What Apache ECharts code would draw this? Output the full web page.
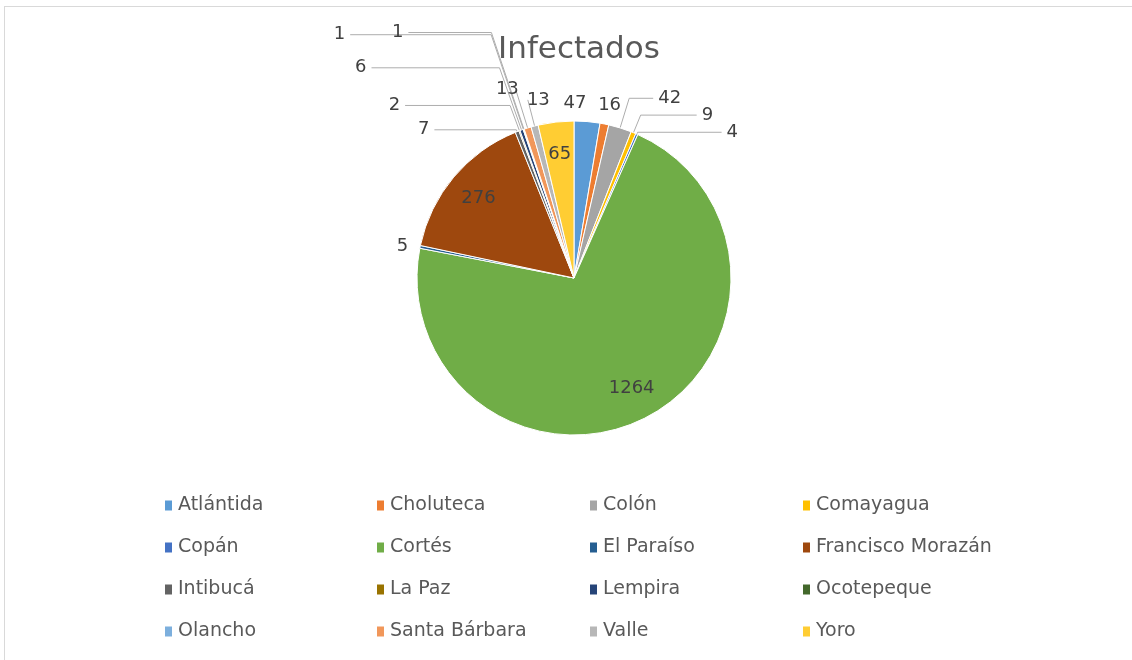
<!DOCTYPE html>
<html>
<head>
<meta charset="utf-8">
<script src="https://cdn.jsdelivr.net/npm/echarts@6/dist/echarts.min.js"></script>
<style>
  html, body { margin: 0; padding: 0; background: #fff; }
  #frame { position: absolute; left: 4px; top: 6px; width: 1140px; height: 660px;
           border-top: 1px solid #d9d9d9; border-left: 1px solid #d9d9d9; }
  #main { position: absolute; left: 0; top: 0; width: 1132px; height: 660px; }
</style>
</head>
<body>
<div id="frame"></div>
<div id="main"></div>
<script>
// departamentos y casos
var departamentos = ['Atlántida', 'Choluteca', 'Colón', 'Comayagua', 'Copán', 'Cortés', 'El Paraíso',
  'Francisco Morazán', 'Intibucá', 'La Paz', 'Lempira', 'Ocotepeque', 'Olancho', 'Santa Bárbara', 'Valle', 'Yoro'];
var infectados = [47, 16, 42, 9, 4, 1264, 5, 276, 7, 2, 6, 1, 1, 13, 13, 65];
var colores = ['#5B9BD5', '#ED7D31', '#A5A5A5', '#FFC000', '#4472C4', '#70AD47', '#255E91', '#9E480E',
  '#636363', '#997300', '#264478', '#43682B', '#7CAFDD', '#F1975A', '#B7B7B7', '#FFCD33'];
// etiquetas dentro del sector
var dentro = ['Cortés', 'Francisco Morazán', 'Yoro'];

// guias de etiqueta (largo radial, largo horizontal, distancia, mostrar linea)
var guias = {
  'Atlántida': [18, 0, -25, false],
  'Choluteca': [19, 0, -10, false],
  'Colón': [31, 24, 5, true],
  'Comayagua': [19, 56, 5, true],
  'Copán': [2, 84, 5, true],
  'El Paraíso': [5, 4, 3, false],
  'Intibucá': [2, 82, 5, true],
  'La Paz': [27, 105, 5, true],
  'Lempira': [66, 128, 5, true],
  'Ocotepeque': [100, 141, 5, true],
  'Olancho': [102, 83, 5, true],
  'Santa Bárbara': [40, 0, -3, true],
  'Valle': [27, 0, -22, true]
};

var myChart = echarts.init(document.getElementById('main'));
var fuente = 'DejaVu Sans';
var centro = [574, 278];

var data = departamentos.map(function (d, i) {
  var item = { name: d, value: infectados[i], itemStyle: { color: colores[i] } };
  if (dentro.indexOf(d) >= 0) {
    item.label = { position: 'inside' };
  } else if (guias[d]) {
    var g = guias[d];
    item.label = { distanceToLabelLine: g[2] };
    item.labelLine = { show: g[3], length: g[0], length2: g[1] };
  }
  return item;
});

// leyenda en 4 columnas
var colX = [158, 370, 583, 796];
var legends = colX.map(function (x, c) {
  return {
    orient: 'vertical',
    left: x,
    top: 491,
    itemWidth: 9,
    itemHeight: 12,
    itemGap: 23,
    selectedMode: false,
    icon: 'rect',
    textStyle: { fontFamily: fuente, fontSize: 19, color: '#595959' },
    data: departamentos.filter(function (d, i) { return i % 4 === c; })
  };
});

var option = {
  animation: false,
  title: {
    text: 'Infectados',
    left: 574,
    textAlign: 'center',
    top: 29,
    textStyle: { fontFamily: fuente, fontSize: 31, fontWeight: 'normal', color: '#595959' }
  },
  legend: legends,
  series: [{
    type: 'pie',
    center: centro,
    radius: 157,
    startAngle: 90,
    clockwise: true,
    avoidLabelOverlap: false,
    data: data,
    itemStyle: { borderColor: '#fff', borderWidth: 1 },
    label: {
      show: true,
      formatter: '{c}',
      fontFamily: fuente,
      fontSize: 18,
      color: '#404040'
    },
    labelLine: {
      show: true,
      length: 12,
      length2: 40,
      smooth: false,
      lineStyle: { color: '#ADADAD', width: 1 }
    },
    // etiquetas internas mas cerca del borde, como en Excel
    labelLayout: function (p) {
      if (dentro.indexOf(departamentos[p.dataIndex]) < 0) return {};
      var r = p.labelRect;
      var lx = r.x + r.width / 2 - centro[0];
      var ly = r.y + r.height / 2 - centro[1];
      return { dx: lx * 0.53, dy: ly * 0.53 };
    },
    emphasis: { disabled: true }
  }]
};
myChart.setOption(option);
</script>
</body>
</html>
